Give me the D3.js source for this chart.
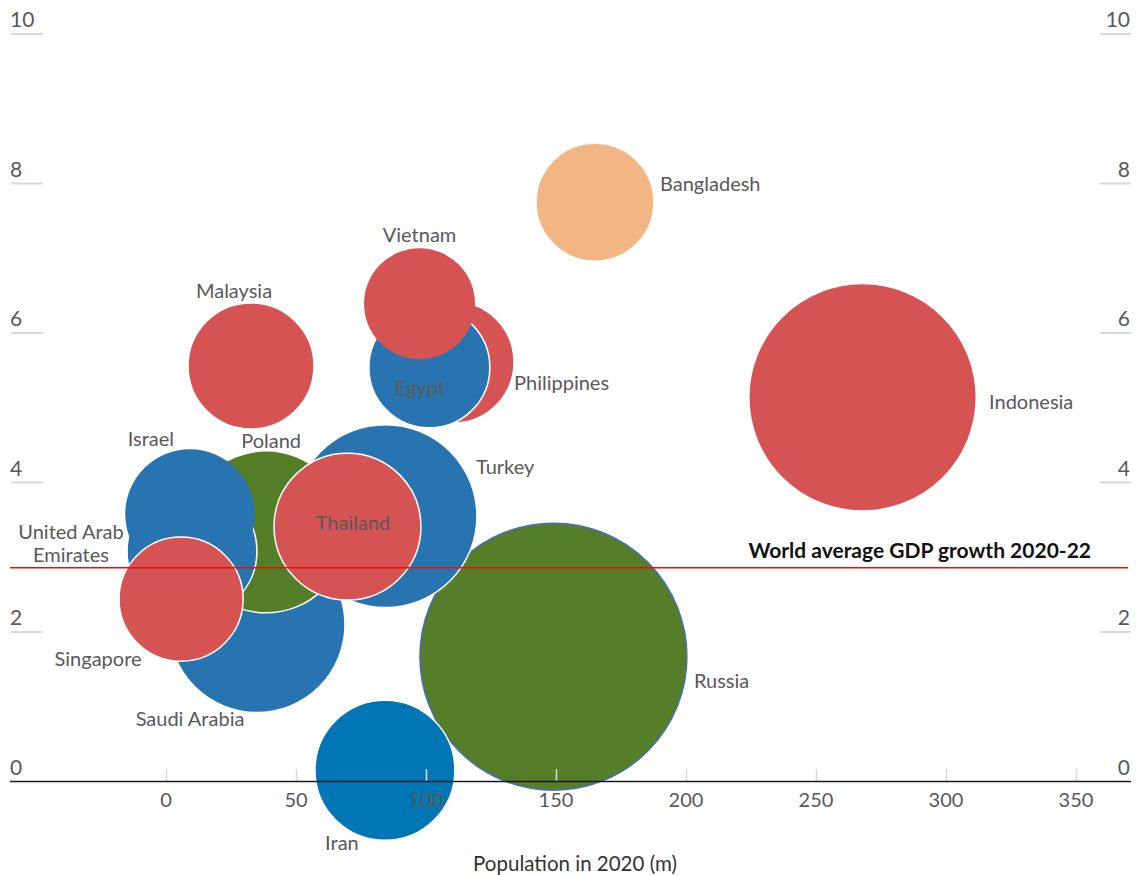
<!DOCTYPE html>
<html>
<head>
<meta charset="utf-8">
<script src="https://cdn.jsdelivr.net/npm/d3@7"></script>
<style>
  html, body { margin: 0; padding: 0; background: #fff; }
  svg { display: block; font-family: Lato, "Open Sans", sans-serif; }
</style>
</head>
<body>
<svg id="chart" width="1145" height="875"></svg>
<script>
// ---------- data ----------
const countries  = ["Bangladesh","Vietnam","Philippines","Egypt","Malaysia","Indonesia","United Arab Emirates","Israel","Poland","Thailand","Turkey","Singapore","Saudi Arabia","Russia","Iran"];
const population = [165, 97.5, 110.4, 101.3, 32.7, 267.9, 10, 9.2, 38.5, 69.8, 84.4, 5.8, 35, 149, 84.2];   // m, 2020
const gdpGrowth  = [7.75, 6.39, 5.61, 5.54, 5.56, 5.14, 3.08, 3.58, 3.34, 3.41, 3.55, 2.44, 2.10, 1.67, 0.15]; // % avg 2020-22
const gdpSize    = [289, 256, 309, 304, 330, 1076, 351, 348, 546, 449, 696, 320, 644, 1482, 407];           // bubble size
const group      = ["orange","red","red","blue","red","red","blue","blue","green","red","blue","red","blue","green","darkblue"];
const worldAverage = 2.86;
const xTicks = [0, 50, 100, 150, 200, 250, 300, 350];
const yTicks = [0, 2, 4, 6, 8, 10];

// label placement (pixel offsets from bubble centre) – layout only
const labelLayout = {
  "Bangladesh":   {dx: 65,   dy: -18,  anchor: "start"},
  "Vietnam":      {dx: 0,    dy: -69,  anchor: "middle"},
  "Philippines":  {dx: 61,   dy: 21,   anchor: "start"},
  "Egypt":        {dx: -9.5, dy: 20.5, anchor: "middle"},
  "Malaysia":     {dx: -17,  dy: -75,  anchor: "middle"},
  "Indonesia":    {dx: 126.5,dy: 5,    anchor: "start"},
  "Israel":       {dx: -39,  dy: -75,  anchor: "middle"},
  "United Arab Emirates": {dx: -121, dy: -7.5, anchor: "middle", lines: ["United Arab","Emirates"]},
  "Poland":       {dx: 5,    dy: -91,  anchor: "middle"},
  "Thailand":     {dx: 5.5,  dy: -3.5, anchor: "middle"},
  "Turkey":       {dx: 90.5, dy: -49.5,anchor: "start"},
  "Singapore":    {dx: -83,  dy: 60,   anchor: "middle"},
  "Saudi Arabia": {dx: -67,  dy: 94,   anchor: "middle"},
  "Russia":       {dx: 140.5,dy: 24,   anchor: "start"},
  "Iran":         {dx: -43,  dy: 73,   anchor: "middle"}
};
const noOutline = ["Israel", "Vietnam"];

const colors = {
  red: "#d65354", blue: "#2874b0", darkblue: "#0076b4", green: "#547e27", orange: "#f3b583"
};

// ---------- scales ----------
const svg = d3.select("#chart");
const x = d3.scaleLinear().domain([0, 350]).range([166, 1076]);
const y = d3.scaleLinear().domain([0, 10]).range([781.5, 34]);
const r = d3.scaleSqrt().domain([0, 1500]).range([0, 134.3]);

const labelColor = "#595959";

// ---------- y ticks (both sides) ----------
const yG = svg.append("g");
yTicks.forEach(t => {
  if (t !== 0) {
    yG.append("line").attr("x1", 11).attr("x2", 43).attr("y1", y(t)).attr("y2", y(t))
      .attr("stroke", "#d9d9d9").attr("stroke-width", 2);
    yG.append("line").attr("x1", 1100).attr("x2", 1131).attr("y1", y(t)).attr("y2", y(t))
      .attr("stroke", "#d9d9d9").attr("stroke-width", 2);
  }
  yG.append("text").attr("x", 10).attr("y", y(t) - 7).attr("font-size", 21)
    .attr("fill", labelColor).text(t);
  yG.append("text").attr("x", 1130).attr("y", y(t) - 7).attr("font-size", 21)
    .attr("text-anchor", "end").attr("fill", labelColor).text(t);
});

// ---------- bubbles ----------
const data = countries.map((c, i) => ({
  name: c, pop: population[i], g: gdpGrowth[i], size: gdpSize[i], grp: group[i]
})).sort((a, b) => b.size - a.size);

svg.append("g").selectAll("circle").data(data).join("circle")
  .attr("cx", d => x(d.pop)).attr("cy", d => y(d.g)).attr("r", d => r(d.size))
  .attr("fill", d => colors[d.grp])
  .attr("stroke", d => d.name === "Russia" ? "#4a6cc0" : (noOutline.includes(d.name) ? "none" : "#ffffff"))
  .attr("stroke-width", 1.5);

// ---------- x axis (drawn over bubbles) ----------
const xAxis = d3.axisTop(x).tickValues(xTicks).tickSize(12).tickFormat("");
const xg = svg.append("g").attr("transform", `translate(0,${y(0) - 0.5})`).call(xAxis);
xg.select(".domain").remove();
xg.selectAll(".tick line").attr("stroke", "#d9d9d9").attr("stroke-width", 1.5);

svg.append("g").selectAll("text").data(xTicks).join("text")
  .attr("x", d => x(d)).attr("y", 807).attr("text-anchor", "middle")
  .attr("font-size", 20).attr("fill", labelColor).text(d => d);

svg.append("line").attr("x1", 10).attr("x2", 1131).attr("y1", y(0)).attr("y2", y(0))
  .attr("stroke", "#1a1a1a").attr("stroke-width", 1.5);

svg.append("text").attr("x", 575).attr("y", 871).attr("text-anchor", "middle")
  .attr("font-size", 20.5).attr("fill", "#333").text("Population in 2020 (m)");

// ---------- world average line ----------
svg.append("line").attr("x1", 10).attr("x2", 1128)
  .attr("y1", y(worldAverage)).attr("y2", y(worldAverage))
  .attr("stroke", "#e3120b").attr("stroke-width", 1.5);
svg.append("text").attr("x", 1091).attr("y", y(worldAverage) - 10)
  .attr("text-anchor", "end").attr("font-size", 21).attr("font-weight", "bold")
  .attr("fill", "#111").text("World average GDP growth 2020-22");

// ---------- labels ----------
const fs = 20;
const lg = svg.append("g");
data.forEach(d => {
  const L = labelLayout[d.name];
  const cx = x(d.pop) + L.dx, cy = y(d.g) + L.dy;
  const lines = L.lines || [d.name];
  const lh = 23;
  const t = lg.append("text").attr("text-anchor", L.anchor)
    .attr("font-size", fs).attr("fill", labelColor);
  lines.forEach((ln, k) => {
    t.append("tspan").attr("x", cx)
      .attr("y", cy + 0.36 * fs + (k - (lines.length - 1) / 2) * lh).text(ln);
  });
});
</script>
</body>
</html>
